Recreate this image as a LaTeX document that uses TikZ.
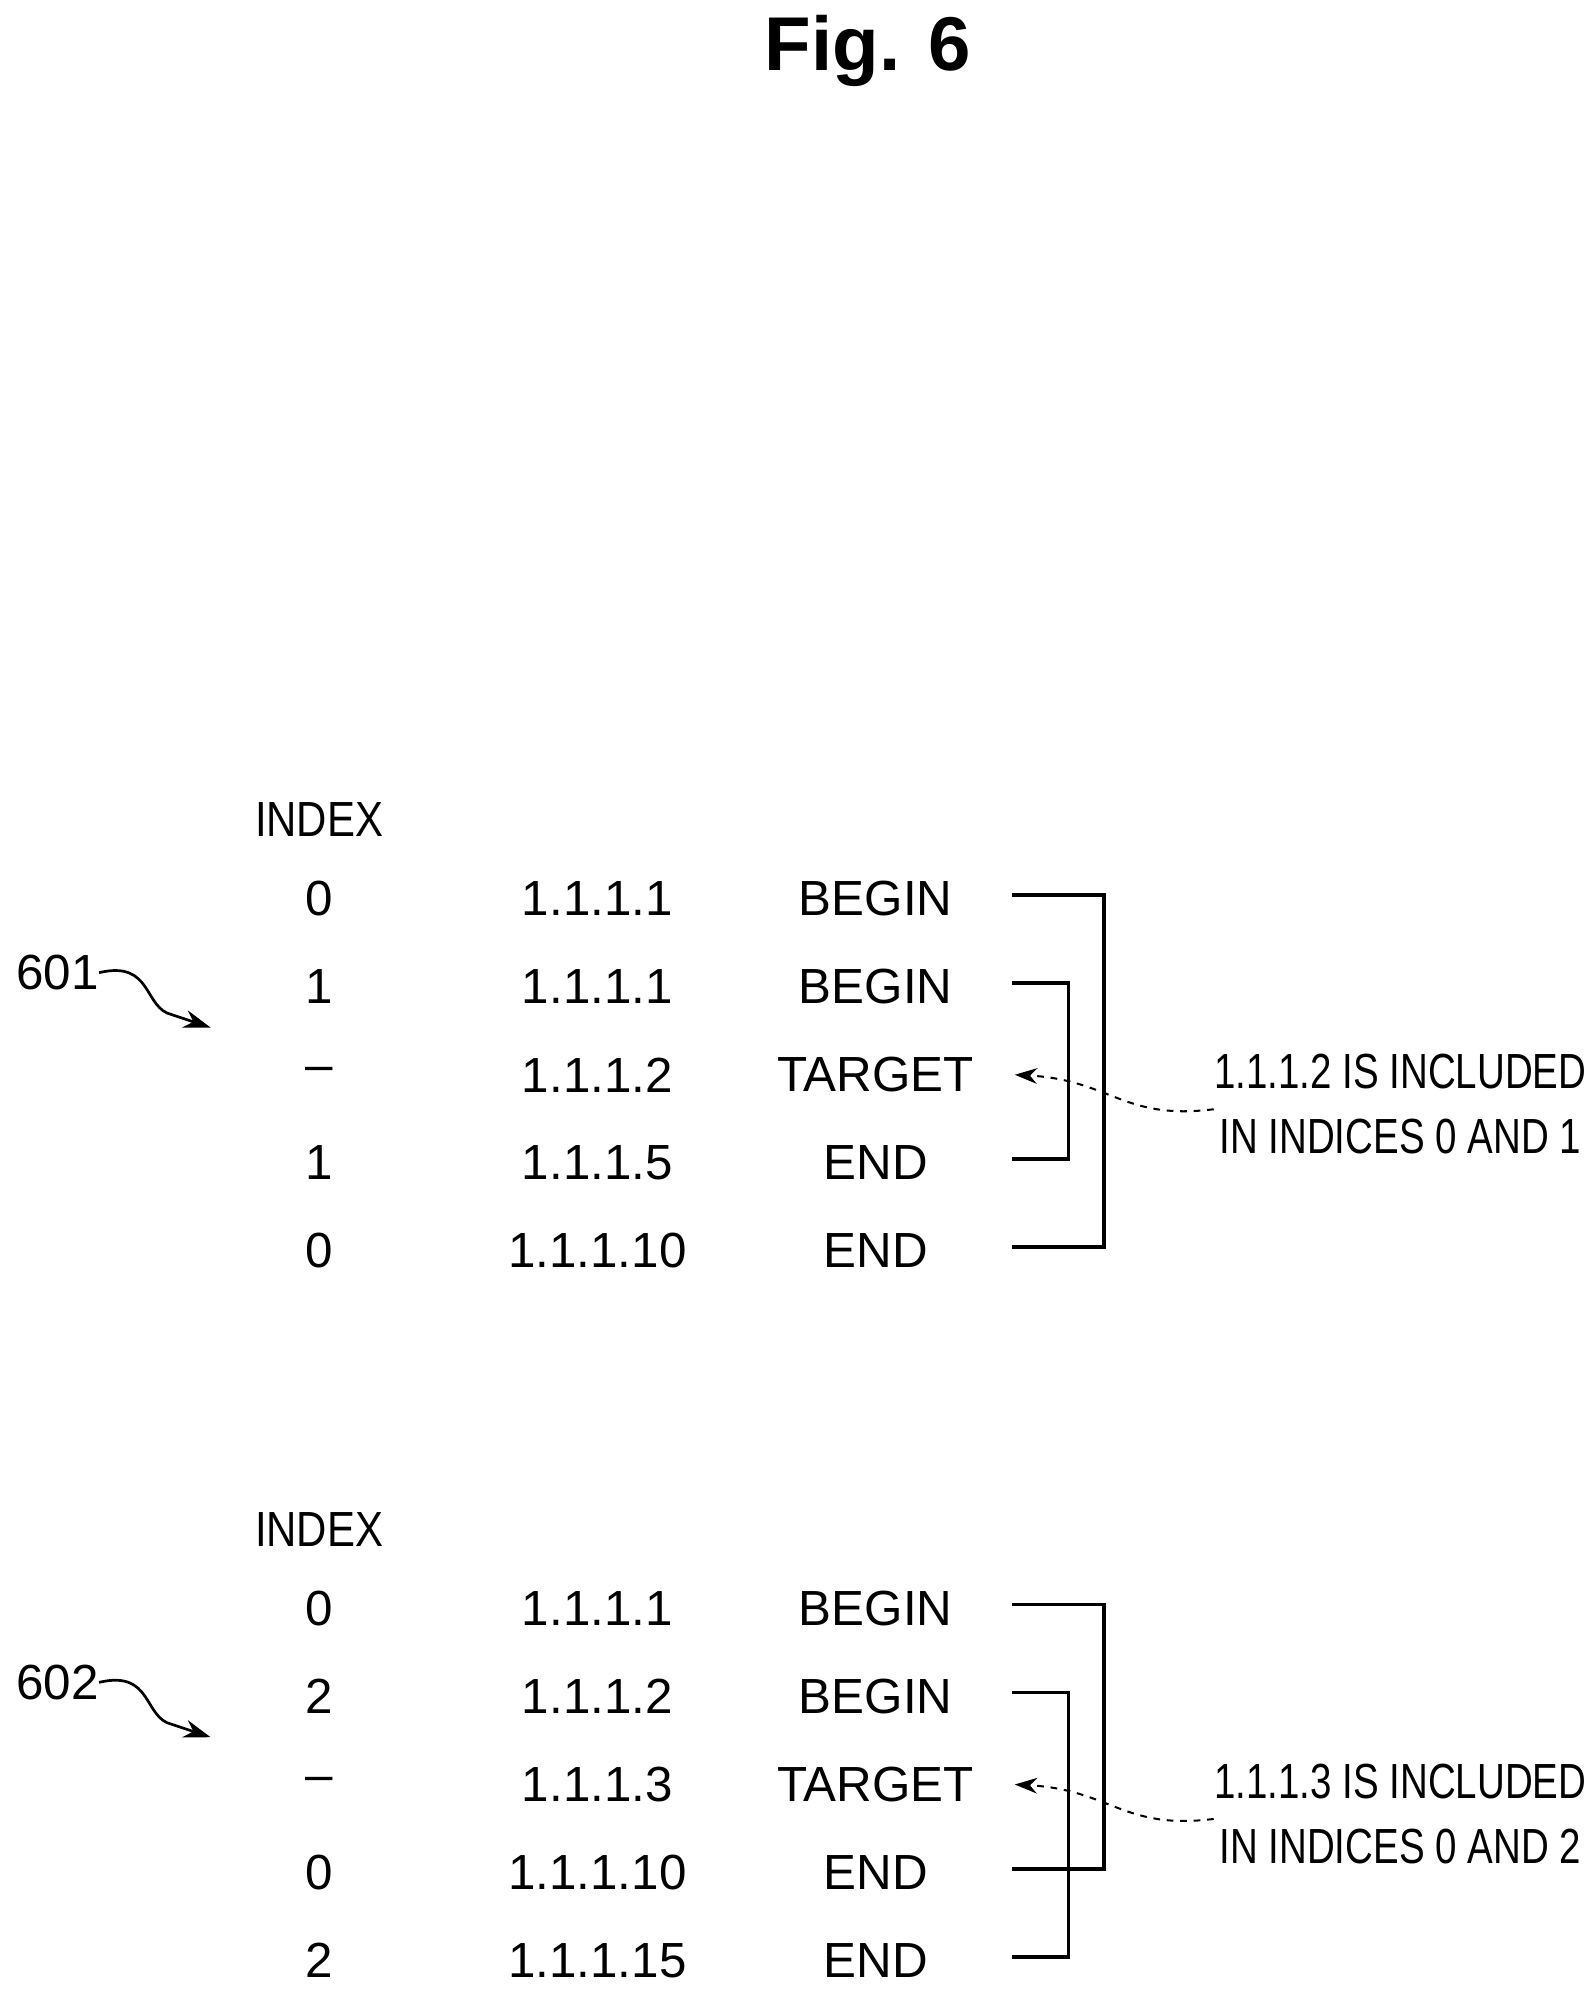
\documentclass[tikz,border=0pt]{standalone}
\usepackage{fontspec}
\setmainfont{Liberation Sans}
\usepackage{graphicx}
\usetikzlibrary{arrows.meta}
\begin{document}
\begin{tikzpicture}[x=0.02cm,y=-0.02cm,
  t/.style={font=\fontsize{22}{24}\selectfont, inner sep=0pt},
  note/.style={font=\fontsize{22}{26}\selectfont, inner sep=0pt, align=center},
  br/.style={line width=1.6pt},
  dasharr/.style={dashed, line width=0.9pt, -{Stealth[length=10pt,width=7pt]}},
  sq/.style={line width=1.2pt, -{Stealth[length=12pt,width=8pt]}}]
\useasboundingbox (0,0) rectangle (1250,1570);
\node[font=\bfseries\fontsize{34}{38}\selectfont] (title) at (680,40) {Fig. 6};
\foreach \o/\tag/\n/\ia/\ib/\ic/\id/\va/\vb/\vc/\vd/\ve/\na/\nb in {
  0/601/a/0/1/1/0/1.1.1.1/1.1.1.1/1.1.1.2/1.1.1.5/1.1.1.10/2/1,
  556/602/b/0/2/0/2/1.1.1.1/1.1.1.2/1.1.1.3/1.1.1.10/1.1.1.15/3/2}{
  \node[t] (idx\n) at (250,642+\o) {\scalebox{0.85}[1]{INDEX}};
  \node[t] (i1\n) at (250,704+\o) {\ia};
  \node[t] (i2\n) at (250,773+\o) {\ib};
  \node[t] (i3\n) at (250,842+\o) {--};
  \node[t] (i4\n) at (250,911+\o) {\ic};
  \node[t] (i5\n) at (250,980+\o) {\id};
  \node[t] (v1\n) at (468,704+\o) {\va};
  \node[t] (v2\n) at (468,773+\o) {\vb};
  \node[t] (v3\n) at (468,842+\o) {\vc};
  \node[t] (v4\n) at (468,911+\o) {\vd};
  \node[t] (v5\n) at (468,980+\o) {\ve};
  \node[t] (l1\n) at (686,704+\o) {BEGIN};
  \node[t] (l2\n) at (686,773+\o) {BEGIN};
  \node[t] (l3\n) at (686,842+\o) {TARGET};
  \node[t] (l4\n) at (686,911+\o) {END};
  \node[t] (l5\n) at (686,980+\o) {END};
  \node[note] (note\n) at (1097,869+\o) {\scalebox{0.78}[1]{\shortstack{\strut 1.1.1.\na{} IS INCLUDED\\\strut IN INDICES 0 AND \nb}}};
  \node[t] (tag\n) at (45,762+\o) {\tag};
  \coordinate (sqend\n) at (165,805+\o);
  \coordinate (tgt\n) at (795,842+\o);
  \draw[sq] (tag\n.east) .. controls (120,752+\o) and (112,790+\o) .. (135,795+\o) -- (sqend\n);
  \draw[dasharr] (note\n.west) .. controls (880,878+\o) and (870,846+\o) .. (tgt\n);
}
\draw[br] (793,701) -- (865,701) -- (865,977) -- (793,977);
\draw[br] (793,770) -- (837,770) -- (837,908) -- (793,908);
\draw[br] (793,1257) -- (865,1257) -- (865,1464) -- (793,1464);
\draw[br] (793,1326) -- (837,1326) -- (837,1533) -- (793,1533);
\end{tikzpicture}
\end{document}
